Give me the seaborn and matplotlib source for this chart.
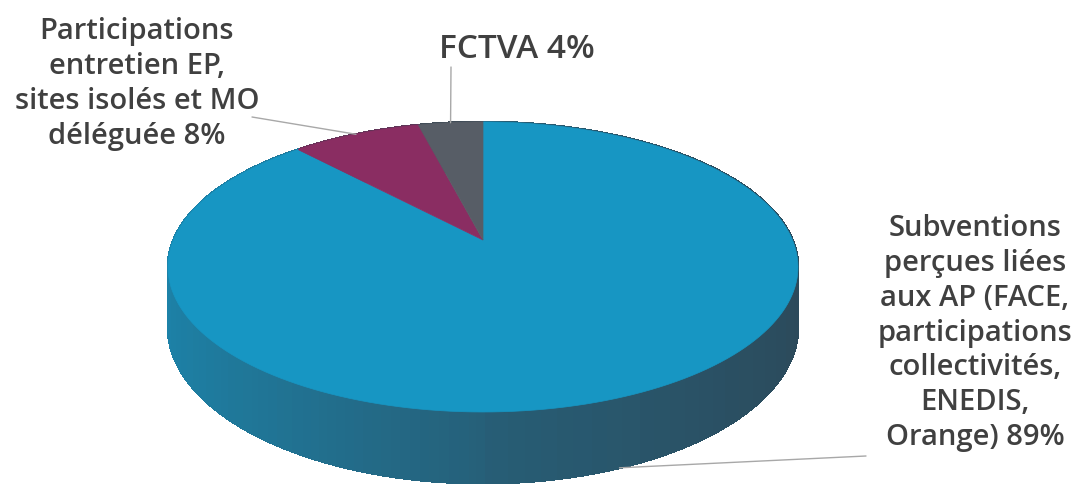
import numpy as np
import matplotlib
matplotlib.use("Agg")
import matplotlib.pyplot as plt
import seaborn as sns

# data
categories = [
    "Subventions\nperçues liées\naux AP (FACE,\nparticipations\ncollectivités,\nENEDIS,\nOrange)",
    "Participations\nentretien EP,\nsites isolés et MO\ndéléguée",
    "FCTVA",
]
values = [89, 8, 4]
colors = ["#1796c3", "#8a2d62", "#575d66"]

# label placement (centre of text block), size and leader-line end
label_pos = [(975, 333), (137, 84), (517, 49)]
label_size = [21, 21, 24]
leader_end = [(866, 456), (252, 117), (451, 67)]

# 3d pie geometry (pixel-like coords)
CX, CY = 483, 240
RX, RY = 309.5, 140
K = 0.186      # perspective
DEPTH = 58

sns.set_theme(style="white")
plt.rcParams["font.family"] = ["Open Sans", "DejaVu Sans"]


def project(theta, drop=0.0):
    u = np.sin(theta)
    v = np.cos(theta)
    w = 1 + K * v
    return CX + RX * u / w, CY - RY * v / w + drop / w


fig = plt.figure(figsize=(10.76, 4.84), dpi=100)
ax = fig.add_axes([0, 0, 1, 1])
ax.set_xlim(0, 1076)
ax.set_ylim(484, 0)
ax.axis("off")

fracs = np.array(values, dtype=float) / sum(values)
bounds = np.concatenate([[0], np.cumsum(fracs)]) * 2 * np.pi

# side walls, far to near
quads = []
for i, col in enumerate(colors):
    shades = sns.blend_palette([col, "#2f3f4c"], n_colors=101)
    th = np.linspace(bounds[i], bounds[i + 1], max(int(fracs[i] * 720), 4))
    for a, b in zip(th[:-1], th[1:]):
        u = np.sin((a + b) / 2)
        t = 0.62 + 0.4 * u if u < 0 else 0.65 + 0.23 * u
        xs_t, ys_t = project(np.array([a, b]))
        xs_b, ys_b = project(np.array([b, a]), DEPTH)
        quads.append((np.cos((a + b) / 2), np.r_[xs_t, xs_b], np.r_[ys_t, ys_b],
                      shades[int(round(t * 100))]))
for _, xs, ys, c in sorted(quads, key=lambda q: -q[0]):
    ax.fill(xs, ys, color=c, lw=1.2, ec=c, antialiased=False)

# top face
for i, col in enumerate(colors):
    th = np.linspace(bounds[i], bounds[i + 1], 200)
    xs, ys = project(th)
    ax.fill(np.r_[CX, xs], np.r_[CY, ys], color=col, lw=0.5, ec=col)

# labels + leader lines
for i, name in enumerate(categories):
    mid = (bounds[i] + bounds[i + 1]) / 2
    drop = DEPTH if np.cos(mid) < 0 else 0
    mx, my = project(mid, drop)
    ex, ey = leader_end[i]
    ax.plot([mx, ex], [my, ey], color="#a8a8a8", lw=1)
    lx, ly = label_pos[i]
    ax.text(lx, ly, f"{name} {values[i]}%", ha="center", va="center",
            multialignment="center", fontsize=label_size[i],
            fontweight="semibold", color="#404040", linespacing=1.26)

fig.savefig("out.png", dpi=100)
